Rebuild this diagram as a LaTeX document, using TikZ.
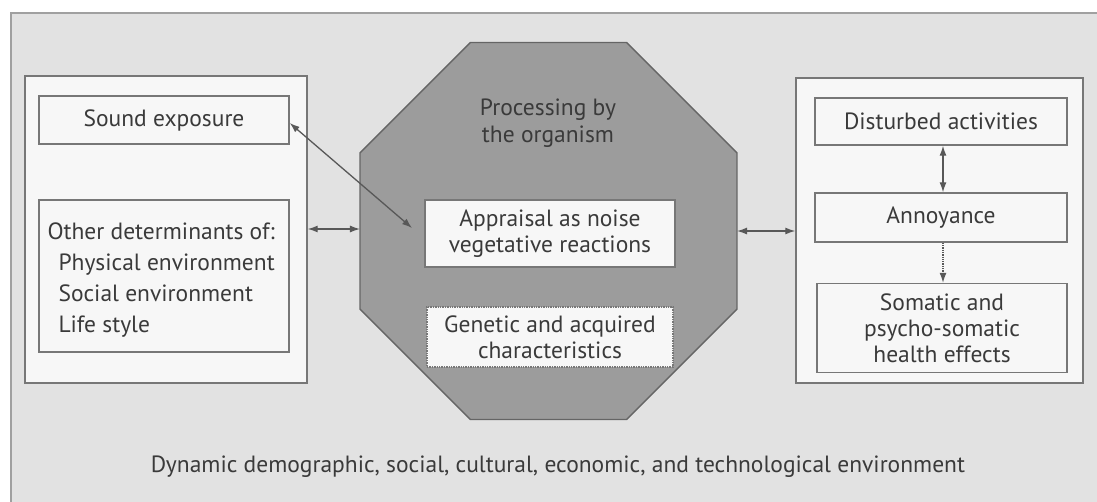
\documentclass[tikz,border=0pt]{standalone}
\usepackage{fontspec}
\setmainfont{PT Sans}
\usetikzlibrary{shapes.geometric,arrows.meta}
\definecolor{bgc}{HTML}{E2E2E2}
\definecolor{boxc}{HTML}{F7F7F7}
\definecolor{octc}{HTML}{9C9C9C}
\definecolor{linec}{HTML}{777777}
\definecolor{txtc}{HTML}{3A3A3A}
\tikzset{
  every node/.style={font=\fontsize{23.5}{26}\selectfont, text=txtc},
  panel/.style={draw=linec, line width=1.4pt, fill=boxc, inner sep=0pt},
  itembox/.style={draw=linec, line width=1.4pt, fill=boxc, inner sep=0pt, align=center},
  conn/.style={draw=txtc!85, line width=1.3pt, {Latex[length=10pt,width=7pt]}-{Latex[length=10pt,width=7pt]}},
  oneway/.style={draw=txtc!85, line width=1.3pt, -{Latex[length=10pt,width=7pt]}},
}
\begin{document}
\begin{tikzpicture}[x=1pt,y=-1pt]
\useasboundingbox (0,0) rectangle (1097,501);
\fill[white] (0,0) rectangle (1097,501);
\begin{scope}
\clip (0,0) rectangle (1097,501);
\draw[draw=linec!70, line width=2pt, fill=bgc] (11,13) rectangle (1110,515);
\end{scope}
% left panel
\node[panel, minimum width=282pt, minimum height=307pt] (leftbox) at (166,229.5) {};
\node[itembox, minimum width=250pt, minimum height=48pt] (sound) at (164,120) {Sound exposure};
\node[itembox, minimum width=250pt, minimum height=152pt] (other) at (164,276) {};
\node[anchor=west, align=left, font=\fontsize{23.5}{31}\selectfont] (othertxt) at (44,280)
  {Other determinants of:\\
   \hspace*{11pt}Physical environment\\
   \hspace*{11pt}Social environment\\
   \hspace*{11pt}Life style};
% octagon
\node[regular polygon, regular polygon sides=8, minimum size=408pt, inner sep=0pt, outer sep=0pt,
      draw=linec!85!black, line width=1.4pt, fill=octc] (oct) at (548.5,231) {};
\node[align=center, font=\fontsize{23.5}{27}\selectfont] (proc) at (548,123) {Processing by\\the organism};
\node[itembox, minimum width=250pt, minimum height=67pt] (appr) at (550,233.5)
  {Appraisal as noise\\vegetative reactions};
\node[itembox, draw=linec, densely dotted, minimum width=246pt, minimum height=60pt] (gen) at (550,337)
  {Genetic and acquired\\characteristics};
% right panel
\node[panel, minimum width=287pt, minimum height=305pt] (rightbox) at (939.5,230.5) {};
\node[itembox, minimum width=252pt, minimum height=47pt] (dist) at (941,121.5) {Disturbed activities};
\node[itembox, minimum width=252pt, minimum height=49pt] (ann) at (941,217.5) {Annoyance};
\node[itembox, minimum width=250pt, minimum height=89pt] (som) at (942,328)
  {Somatic and\\psycho-somatic\\health effects};
% bottom caption
\node (env) at (558,467) {Dynamic demographic, social, cultural, economic, and technological environment};
% connectors
\coordinate (apprtip) at (412,228);
\draw[conn] (sound.east |- 0,123) -- (apprtip);
\draw[conn] (leftbox.east |- 0,229) -- (oct.west |- 0,229);
\draw[conn] (oct.east) -- (rightbox.west |- oct.east);
\draw[conn] (dist.south -| 943,0) -- (ann.north -| 943,0);
\draw[oneway, densely dotted] (ann.south -| 943,0) -- (som.north -| 943,0);
\end{tikzpicture}
\end{document}
